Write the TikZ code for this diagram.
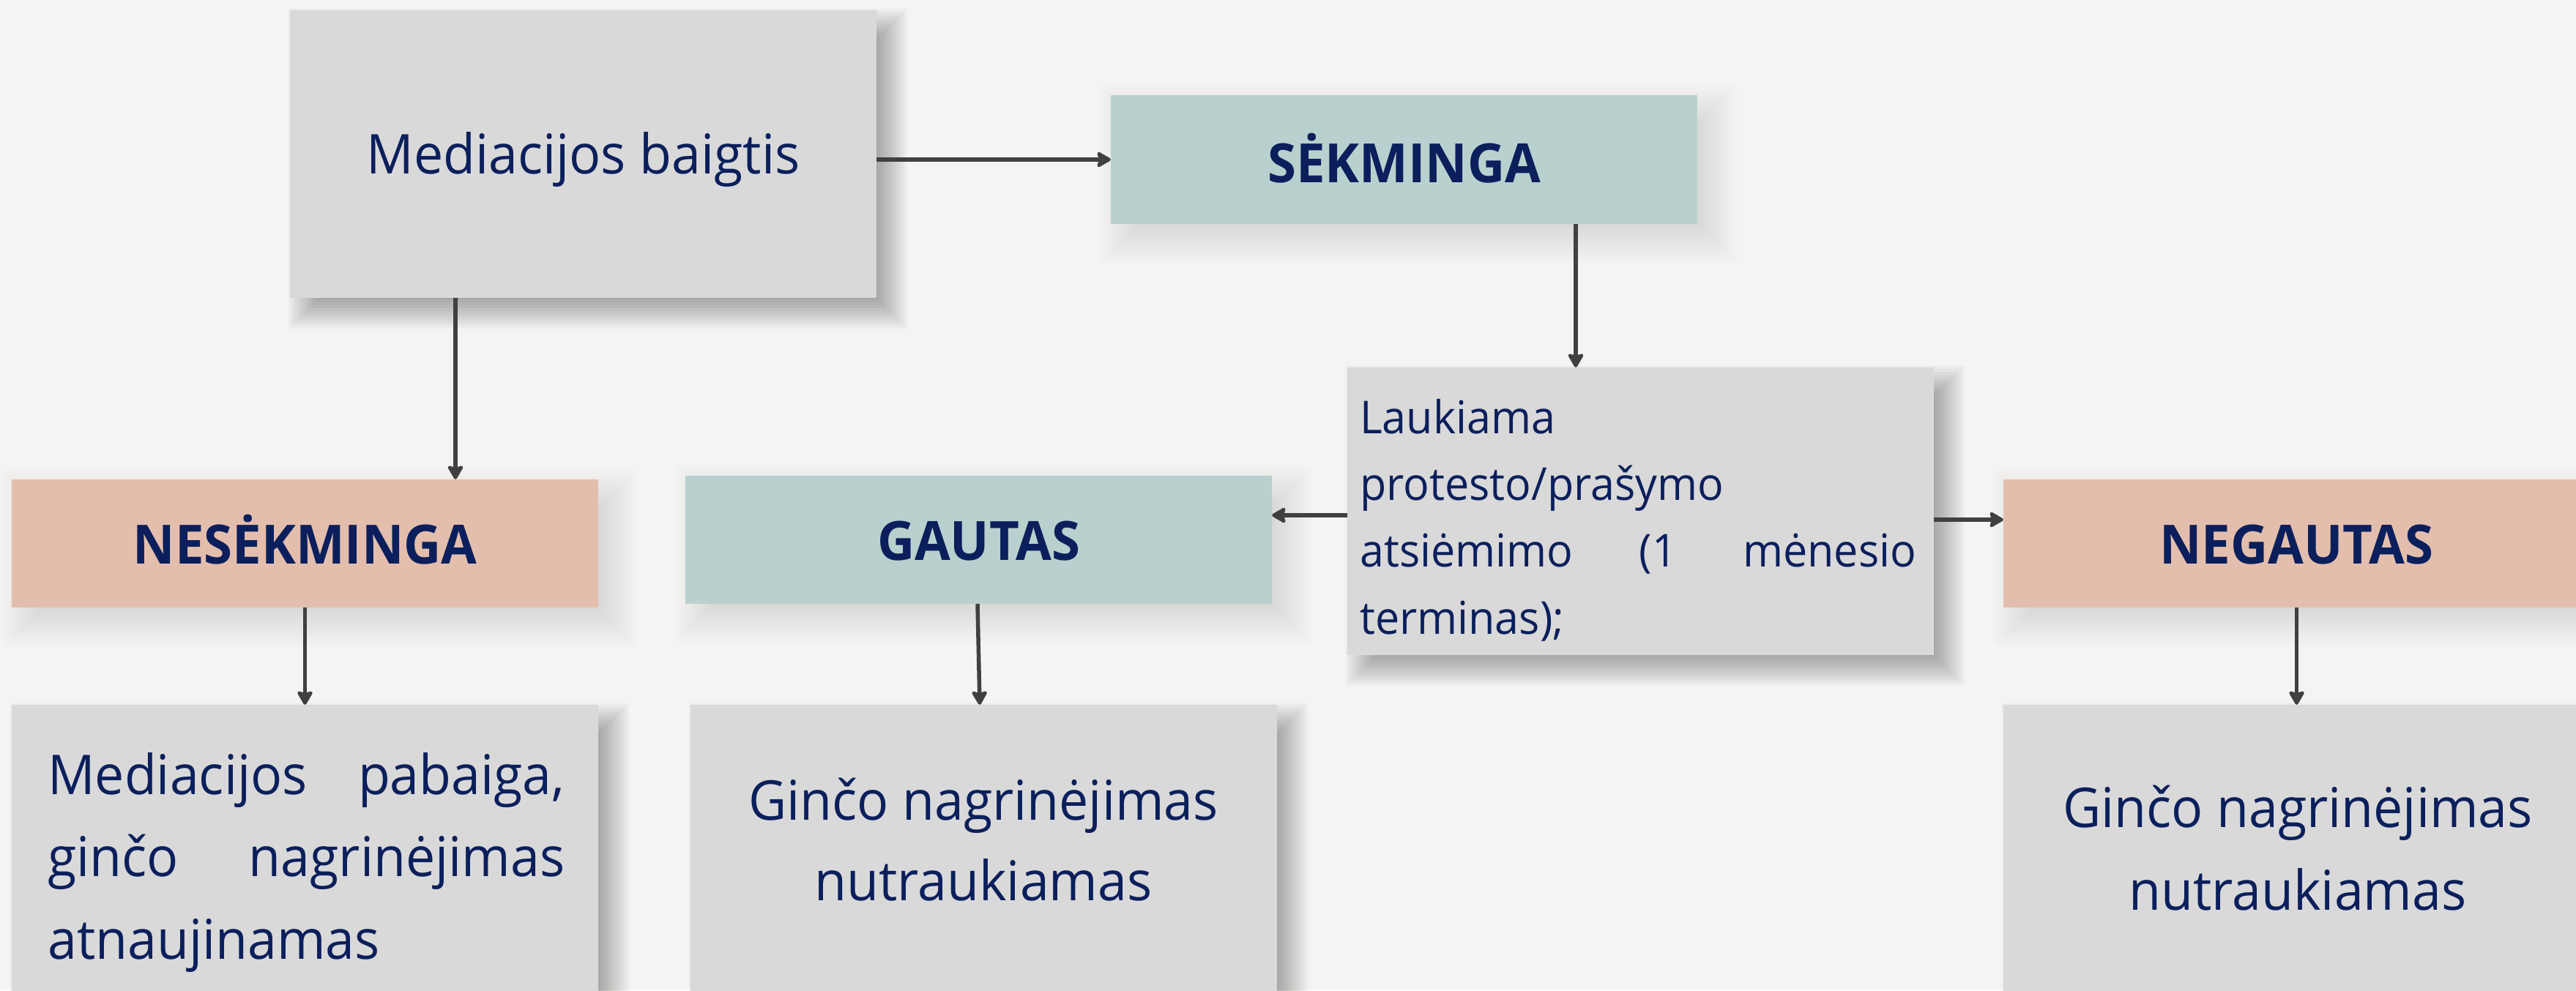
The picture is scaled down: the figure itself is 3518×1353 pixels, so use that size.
\documentclass[tikz,border=0pt]{standalone}
\usepackage{fontspec}
\setmainfont[FakeStretch=0.955]{Open Sans}
\usetikzlibrary{arrows.meta}
\definecolor{bgc}{HTML}{F5F4F2}
\definecolor{grayc}{HTML}{D9D9D9}
\definecolor{tealc}{HTML}{B8D1CE}
\definecolor{salmc}{HTML}{E4BEAD}
\definecolor{navy}{HTML}{0B1F5C}
\definecolor{arrc}{HTML}{404040}
\pgfdeclarelayer{back}
\pgfsetlayers{back,main}
% soft drop shadow: node, opacity per layer, max spread
% (box shifted by 20,20, shrunk by 20, then grown by each spread value)
\newcommand\myshadow[3]{%
  \foreach \e in {2,6,...,#3}{%
    \fill[black,opacity=#2] ([shift={(40-\e,40-\e)}]#1.north west) rectangle ([shift={(\e,\e)}]#1.south east);
  }}
\newcommand\jline[2]{\leavevmode\hbox to #1{#2}}
\begin{document}
\begin{tikzpicture}[x=1pt,y=-1pt,
  box/.style={rectangle, inner sep=0pt, minimum width=801pt, text=navy},
  bigbox/.style={box, fill=grayc, minimum height=393pt},
  titlebox/.style={box, minimum height=175pt, font=\fontsize{74}{88}\selectfont\bfseries, text height=56pt, text depth=0pt},
  txt/.style={inner sep=0pt, text=navy},
  arr/.style={draw=arrc, line width=5.5pt, -{Stealth[length=22pt,width=25pt,inset=4pt,round]}}
]
\useasboundingbox (0,0) rectangle (3518,1353);

% boxes
\node[bigbox, font=\fontsize{75}{90}\selectfont, text height=53.5pt, text depth=0pt] (base) at (796.5,210.5) {Mediacijos baigtis};
\node[titlebox, fill=tealc, minimum height=176pt, text height=63pt] (sek) at (1917.5,218) {SĖKMINGA};
\node[bigbox] (lauk) at (2240.5,698.5) {};
\node[titlebox, fill=salmc] (nes) at (416.5,742.5) {NESĖKMINGA};
\node[titlebox, fill=tealc] (gaut) at (1336.5,737.5) {GAUTAS};
\node[titlebox, fill=salmc] (negaut) at (3136.5,742.5) {NEGAUTAS};
\node[bigbox] (b1) at (416.5,1159.5) {};
\node[bigbox] (b2) at (1343.5,1159.5) {};
\node[bigbox] (b3) at (3136.5,1159.5) {};

% texts
\node[txt, anchor=north west, text width=760pt, align=left, font=\fontsize{62}{91.3}\selectfont] (laukt) at (1857,512)
  {\rule{0pt}{80pt}Laukiama\\ protesto/prašymo\\ \jline{760pt}{atsiėmimo\hfill(1\hfill mėnesio}\\ terminas);};
\node[txt, anchor=north west, text width=706pt, align=left, font=\fontsize{75}{112.5}\selectfont] (b1t) at (65,1005)
  {\rule{0pt}{80pt}\jline{706pt}{Mediacijos\hfill pabaiga,}\\ \jline{706pt}{ginčo\hfill nagrinėjimas}\\ atnaujinamas};
\node[txt, anchor=north, align=center, font=\fontsize{75}{110}\selectfont] (b2t) at (1343,1040)
  {\rule{0pt}{80pt}Ginčo nagrinėjimas\\ nutraukiamas};
\node[txt, anchor=north, align=center, font=\fontsize{75}{113}\selectfont] (b3t) at (3138,1050)
  {\rule{0pt}{80pt}Ginčo nagrinėjimas\\ nutraukiamas};

% background and shadows
\begin{pgfonlayer}{back}
\fill[bgc] (0,0) rectangle (3518,1353);
\myshadow{base}{0.03}{42}
\myshadow{lauk}{0.03}{42}
\myshadow{b1}{0.03}{42}
\myshadow{b2}{0.03}{42}
\myshadow{b3}{0.03}{42}
\myshadow{sek}{0.009}{54}
\myshadow{nes}{0.009}{54}
\myshadow{gaut}{0.009}{54}
\myshadow{negaut}{0.009}{54}
\end{pgfonlayer}

% connectors
\draw[arr] (base.east |- sek.west) -- (sek.west);
\draw[arr] ([xshift=-174.5pt]base.south) -- ([xshift=205.5pt]nes.north);
\draw[arr] ([xshift=234.5pt]sek.south) -- ([xshift=-88.5pt]lauk.north);
\draw[arr] ([yshift=-5.5pt]lauk.west) -- ([yshift=-5.5pt]lauk.west -| gaut.east);
\draw[arr] ([yshift=-11.5pt]lauk.east) -- ([yshift=-11.5pt]lauk.east -| negaut.west);
\draw[arr] (nes.south) -- (b1.north);
\draw[arr] ([xshift=-1.5pt]gaut.south) -- ([xshift=-5.5pt]b2.north);
\draw[arr] (negaut.south) -- (b3.north);
\end{tikzpicture}
\end{document}
